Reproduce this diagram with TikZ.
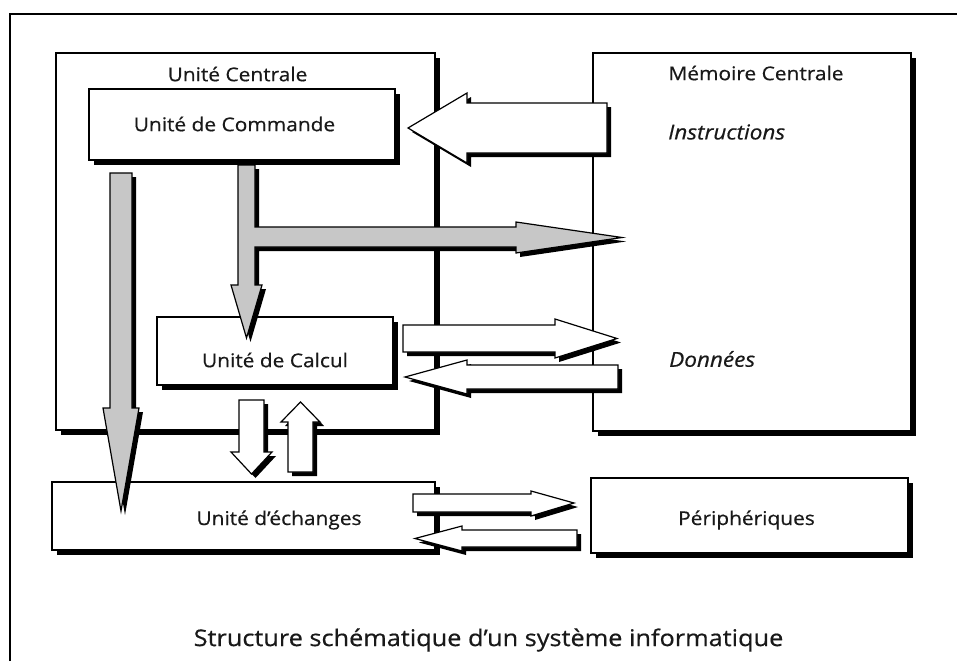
\documentclass[tikz,border=0pt]{standalone}
\usepackage{fontspec}
\setmainfont{Open Sans}[FakeStretch=1.1, FakeBold=0.5]
\begin{document}
\begin{tikzpicture}[x=1pt,y=-1pt,
  shd/.style={preaction={fill=black, transform canvas={shift={(#1,-#1)}}}},
  shd/.default=4pt,
  box/.style={draw=black, fill=white, line width=1.2pt, inner sep=0pt, outer sep=0pt, shd=5pt},
  lbl/.style={inner sep=0pt, text=black!90, font=\fontsize{19}{22}\selectfont},
  itlbl/.style={lbl, anchor=west, font=\fontsize{20.5}{24}\selectfont\itshape},
  whitearrow/.style={draw=black, fill=white, line width=1.2pt, line join=miter, shd=4pt},
  grayarrow/.style={draw=black, fill=black!22, line width=1.2pt, line join=miter, shd=4pt}
]
\useasboundingbox (0,0) rectangle (957,661);
\fill[white] (0,0) rectangle (957,661);
% outer frame
\draw[line width=2pt] (10,661) -- (10,14) -- (957,14);

% main boxes
\node[box, minimum width=379pt, minimum height=377pt] (uc) at (245.5,241.5) {};
\node[box, minimum width=318pt, minimum height=378pt] (mc) at (752,242) {};
\node[box, minimum width=306pt, minimum height=71pt] (cmd) at (242,124.5) {};
\node[box, minimum width=236pt, minimum height=68pt] (calc) at (275,351) {};
\node[box, minimum width=383pt, minimum height=68pt] (ech) at (243.5,516) {};
\node[box, minimum width=317pt, minimum height=75pt] (per) at (749.5,515.5) {};

% labels
\node[lbl] (ucT) at (237.5,74) {Unité Centrale};
\node[lbl] (cmdT) at (234.5,124) {Unité de Commande};
\node[lbl] (calcT) at (275,360) {Unité de Calcul};
\node[lbl] (echT) at (279,520) {Unité d’échanges};
\node[lbl] (mcT) at (756,73) {Mémoire Centrale};
\node[itlbl] (insT) at (668,132) {Instructions};
\node[itlbl] (donT) at (669,359) {Données};
\node[lbl] (perT) at (746.5,520) {Périphériques};
\node[lbl, font=\fontsize{23}{27}\selectfont] (capT) at (488.5,640) {Structure schématique d’un système informatique};

% block arrows
% Instructions : memoire -> commande
\draw[whitearrow] (607,103) -- (467,103) -- (467,93) -- (408,128) -- (467,163) -- (467,153) -- (607,153) -- cycle;
% commande -> calcul and -> memoire
\draw[grayarrow] (238,165) -- (255,165) -- (255,227) -- (516,227) -- (516,222) -- (622,237.5) -- (516,253) -- (516,247) -- (255,247) -- (255,285) -- (262,285) -- (246.5,338) -- (231,285) -- (238,285) -- cycle;
% commande -> echanges
\draw[grayarrow] (110,173) -- (132,173) -- (132,408) -- (139,408) -- (121,511) -- (103,408) -- (110,408) -- cycle;
% calcul <-> donnees
\draw[whitearrow] (403,325) -- (555,325) -- (555,319) -- (617,338.5) -- (555,358) -- (555,352) -- (403,352) -- cycle;
\draw[whitearrow] (618,365) -- (467,365) -- (467,360) -- (405,377) -- (467,394) -- (467,389) -- (618,389) -- cycle;
% calcul <-> echanges
\draw[whitearrow] (239,400) -- (264,400) -- (264,452) -- (272,452) -- (251.5,474) -- (231,452) -- (239,452) -- cycle;
\draw[whitearrow] (288,472) -- (313,472) -- (313,422) -- (320,422) -- (300.5,402) -- (281,422) -- (288,422) -- cycle;
% echanges <-> peripheriques
\draw[whitearrow] (413,494) -- (531,494) -- (531,491) -- (574,503) -- (531,516) -- (531,512) -- (413,512) -- cycle;
\draw[whitearrow] (577,530) -- (462,530) -- (462,526) -- (415,538.5) -- (462,551) -- (462,547) -- (577,547) -- cycle;
\end{tikzpicture}
\end{document}
